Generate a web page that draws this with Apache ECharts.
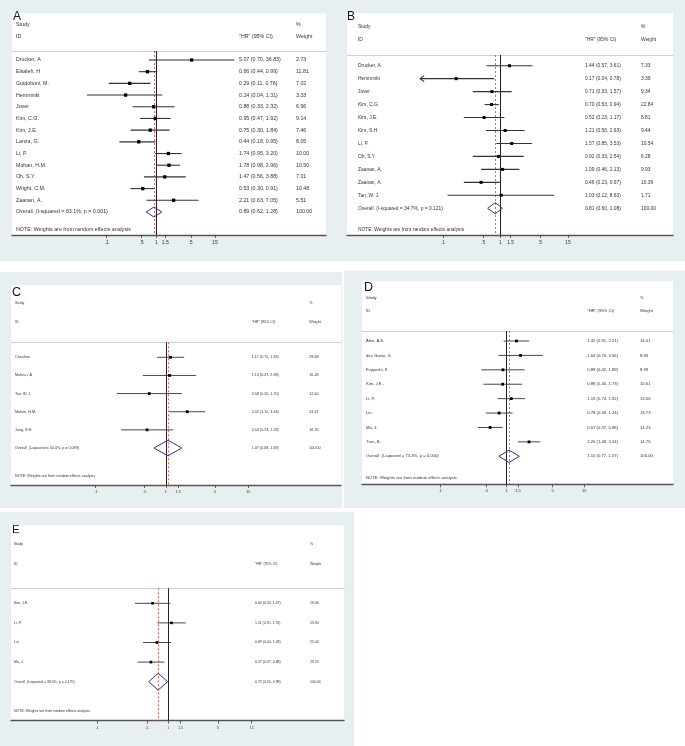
<!DOCTYPE html>
<html><head><meta charset="utf-8">
<script src="https://cdn.jsdelivr.net/npm/echarts@6/dist/echarts.min.js"></script>
<style>html,body{margin:0;padding:0;background:#fff}#c{width:685px;height:746px}</style>
</head><body><div id="c"></div><script>
// ---------------- data ----------------
const tickValues = [0.1, 0.5, 1, 1.5, 5, 15];
const tickLabels = ['.1', '.5', '1', '1.5', '5', '15'];

const studiesA = ['Drucker, A', 'Elsaleh, H', 'Guidoboni, M.', 'Hemminki', 'Jover', 'Kim, C.G.', 'Kim, J.E.', 'Lanza, G.', 'Li, P.', 'Mohan, H.M.', 'Oh, S.Y.', 'Wright, C.M.', 'Zaanan, A.'];
const hrA = [5.07, 0.66, 0.29, 0.24, 0.88, 0.95, 0.75, 0.44, 1.74, 1.78, 1.47, 0.53, 2.21];
const loA = [0.70, 0.44, 0.11, 0.04, 0.33, 0.47, 0.30, 0.18, 0.95, 0.98, 0.56, 0.30, 0.63];
const hiA = [36.83, 0.99, 0.76, 1.31, 2.32, 1.92, 1.84, 0.95, 3.20, 2.96, 3.88, 0.91, 7.05];
const weightA = [2.73, 11.81, 7.02, 3.33, 6.96, 9.14, 7.46, 8.05, 10.00, 10.50, 7.01, 10.48, 5.51];
const overallA = [0.89, 0.62, 1.28];
const overallLabelA = 'Overall  (I-squared = 63.1%, p = 0.001)';

const studiesB = ['Drucker, A', 'Hemminki', 'Jover', 'Kim, C.G.', 'Kim, J.E.', 'Kim, S.H.', 'Li, P.', 'Oh, S.Y.', 'Zaanan, A.', 'Zaanan, A.', 'Tan, W. J.'];
const hrB = [1.44, 0.17, 0.71, 0.70, 0.52, 1.21, 1.57, 0.92, 1.09, 0.46, 1.03];
const loB = [0.57, 0.04, 0.33, 0.53, 0.23, 0.56, 0.85, 0.33, 0.46, 0.23, 0.12];
const hiB = [3.61, 0.78, 1.57, 0.94, 1.17, 2.63, 3.53, 2.54, 2.13, 0.97, 8.63];
const weightB = [7.33, 3.39, 9.34, 22.84, 8.81, 9.44, 10.54, 6.28, 9.93, 10.39, 1.71];
const arrowLowB = [1];
const overallB = [0.81, 0.60, 1.08];
const overallLabelB = 'Overall  (I-squared = 34.7%, p = 0.121)';

const studiesC = ['Chouhan', 'Malesci, A', 'Tan, W. J.', 'Mohan, H.M.', 'Jung, S.H.'];
const hrC = [1.17, 1.13, 0.58, 2.02, 0.54];
const loC = [0.75, 0.47, 0.20, 1.12, 0.23];
const hiC = [1.83, 2.68, 1.70, 3.64, 1.28];
const weightC = [29.68, 16.48, 12.60, 24.47, 16.76];
const overallC = [1.07, 0.68, 1.69];
const overallLabelC = 'Overall  (I-squared = 50.4%, p = 0.089)';

const studiesD = ['Alex, A.K.', 'des Guetz, G', 'Fujiyoshi, K', 'Kim, J.E.,', 'Li, P.', 'Liu', 'Ma, J.', 'Tran, B.'];
const hrD = [1.42, 1.64, 0.89, 0.88, 1.19, 0.78, 0.57, 2.20];
const loD = [0.91, 0.76, 0.42, 0.45, 0.74, 0.49, 0.37, 1.49];
const hiD = [2.21, 3.56, 1.89, 1.73, 1.92, 1.24, 0.88, 3.24];
const weightD = [14.01, 8.83, 8.99, 10.01, 13.56, 13.73, 14.23, 14.75];
const overallD = [1.10, 0.77, 1.57];
const overallLabelD = 'Overall  (I-squared = 73.3%, p = 0.000)';

const studiesE = ['Kim, J.E.', 'Li, P.', 'Liu', 'Ma, J.'];
const hrE = [0.60, 1.11, 0.69, 0.57];
const loE = [0.34, 0.70, 0.44, 0.37];
const hiE = [1.07, 1.76, 1.09, 0.88];
const weightE = [19.46, 25.90, 25.40, 29.23];
const overallE = [0.72, 0.53, 0.98];
const overallLabelE = 'Overall  (I-squared = 38.0%, p = 0.175)';

const headerStudy = 'Study', headerID = 'ID', headerHR = '"HR" (95% CI)', headerPct = '%', headerWeight = 'Weight';
const noteText = 'NOTE: Weights are from random effects analysis';

// ---------------- layout ----------------
const FONT = '"Liberation Sans", Arial, sans-serif';
const TXT = '#333';
const panels = [
  {letter:'A', st:studiesA, hr:hrA, lo:loA, hi:hiA, w:weightA, ov:overallA, ovLabel:overallLabelA, arrows:[],
   box:[12,13,314,222], top:51, y0:60, dy:11.69, t01:106.7, t15:215, cols:[16,239,296], fs:5.3,
   let:[13,11,12], hStudy:25, hId:37, note:230, tfs:5.2, margin:5.5, mark:3.3, lw:1.1},
  {letter:'B', st:studiesB, hr:hrB, lo:loB, hi:hiB, w:weightB, ov:overallB, ovLabel:overallLabelB, arrows:arrowLowB,
   box:[347,13,326,222], top:55, y0:65.7, dy:12.96, t01:443, t15:568, cols:[358,585,641], fs:4.9,
   let:[347,11,12], hStudy:26.7, hId:40, note:230, tfs:4.9, margin:5.3, mark:3, lw:1.1},
  {letter:'C', st:studiesC, hr:hrC, lo:loC, hi:hiC, w:weightC, ov:overallC, ovLabel:overallLabelC, arrows:[],
   box:[11,285,330,200], top:342.3, y0:357.3, dy:18.14, t01:95.7, t15:248.3, cols:[15,251.7,309.3], fs:3.7,
   let:[12,286,12.5], hStudy:302.7, hId:322, note:475.7, tfs:3.8, margin:4.8, mark:2.8, lw:0.9},
  {letter:'D', st:studiesD, hr:hrD, lo:loD, hi:hiD, w:weightD, ov:overallD, ovLabel:overallLabelD, arrows:[],
   box:[362,281,311,203.3], top:331, y0:341, dy:14.41, t01:440, t15:584.3, cols:[366,587.3,640], fs:4.2,
   let:[364,281,12.5], hStudy:297.7, hId:310.7, note:477.7, tfs:4, margin:4.7, mark:2.8, lw:0.9},
  {letter:'E', st:studiesE, hr:hrE, lo:loE, hi:hiE, w:weightE, ov:overallE, ovLabel:overallLabelE, arrows:[],
   box:[11,525,333,195.7], top:588.3, y0:603.3, dy:19.6, t01:97.3, t15:251.7, cols:[14,255,310], fs:3.5,
   let:[12,524,11.5], hStudy:544.3, hId:564, note:711, tfs:3.6, margin:4.8, mark:2.6, lw:0.9}
];
const greyBoxes = [[0,0,685,261],[0,272,342,236],[344,271,341,237],[0,512,354,234]];
const BG = '#e8eff1';

const fmt = v => v.toFixed(2);
const ciText = (h,l,u) => fmt(h) + ' (' + fmt(l) + ', ' + fmt(u) + ')';

const grids = [], xAxes = [], yAxes = [], series = [], graphics = [];
greyBoxes.forEach(b => graphics.push({type:'rect', z:-10, shape:{x:b[0],y:b[1],width:b[2],height:b[3]}, style:{fill:BG}}));

panels.forEach((p, k) => {
  const L = p.box[0], R = p.box[0] + p.box[2], B = p.box[1] + p.box[3];
  graphics.push({type:'rect', z:-9, shape:{x:L,y:p.box[1],width:p.box[2],height:p.box[3]}, style:{fill:'#fff'}});
  const kx = (p.t15 - p.t01) / Math.log(150);
  const xmin = 0.1 * Math.exp(-(p.t01 - L) / kx);
  const xmax = 0.1 * Math.exp((R - p.t01) / kx);
  const ymin = -(p.y0 - p.top) / p.dy, ymax = (B - p.y0) / p.dy;
  grids.push({left:L, top:p.top, width:p.box[2], height:B - p.top, containLabel:false, outerBoundsMode:'none'});
  xAxes.push({type:'log', gridIndex:k, min:xmin, max:xmax, logBase:10, position:'bottom',
    axisLine:{show:true, onZero:false, lineStyle:{color:'#555', width:1.4}},
    axisTick:{show:true, customValues:tickValues, length:3, lineStyle:{color:'#444', width:0.8}},
    axisLabel:{show:true, customValues:tickValues, fontSize:p.tfs, color:TXT, fontFamily:FONT, margin:p.margin,
      formatter: v => { const i = tickValues.findIndex(t => Math.abs(t - v) < 1e-6 * t); return i >= 0 ? tickLabels[i] : ''; }},
    splitLine:{show:false}, minorTick:{show:false}, minorSplitLine:{show:false}});
  xAxes.push({type:'value', gridIndex:k, position:'top', min:0, max:1,
    axisLine:{show:true, onZero:false, lineStyle:{color:'#cfcfcf', width:1}}, axisTick:{show:false}, axisLabel:{show:false}, splitLine:{show:false}});
  yAxes.push({type:'value', gridIndex:k, inverse:true, min:ymin, max:ymax, show:false, splitLine:{show:false}, axisLine:{onZero:false}});

  const n = p.st.length;
  // reference lines
  series.push({type:'line', xAxisIndex:2*k, yAxisIndex:k, data:[], silent:true,
    markLine:{silent:true, symbol:['none','none'], label:{show:false}, z:3,
      data:[{xAxis:1, lineStyle:{color:'#222', type:'solid', width:1}},
            {xAxis:p.ov[0], lineStyle:{color:'#d9534f', type:[2,2], width:0.9}}]}});
  // confidence intervals + point estimates
  series.push({type:'custom', xAxisIndex:2*k, yAxisIndex:k, clip:false, z:4,
    data: p.hr.map((h, i) => [h, p.lo[i], p.hi[i], i, p.arrows.includes(i) ? 1 : 0]),
    renderItem: (params, api) => {
      const i = api.value(3);
      const a = api.coord([api.value(1), i]), b = api.coord([api.value(2), i]), c = api.coord([api.value(0), i]);
      const s = p.mark;
      const ch = [
        {type:'line', shape:{x1:a[0], y1:a[1], x2:b[0], y2:b[1]}, style:{stroke:'#333', lineWidth:p.lw}},
        {type:'rect', shape:{x:c[0]-s/2, y:c[1]-s/2, width:s, height:s}, style:{fill:'#000'}}
      ];
      if (api.value(4)) ch.push({type:'polyline', shape:{points:[[a[0]+4, a[1]-3], [a[0], a[1]], [a[0]+4, a[1]+3]]}, style:{stroke:'#333', fill:null, lineWidth:p.lw}});
      return {type:'group', children:ch};
    }});
  // overall diamond
  series.push({type:'custom', xAxisIndex:2*k, yAxisIndex:k, clip:false, z:5,
    data:[[p.ov[0], p.ov[1], p.ov[2], n]],
    renderItem: (params, api) => {
      const r = api.value(3), h = 0.43;
      const pts = [api.coord([api.value(1), r]), api.coord([api.value(0), r - h]), api.coord([api.value(2), r]), api.coord([api.value(0), r + h])];
      return {type:'polygon', shape:{points:pts}, style:{stroke:'#2e3192', fill:null, lineWidth:1}};
    }});
  // row texts
  const names = p.st.concat([p.ovLabel]);
  const cis = p.hr.map((h, i) => ciText(h, p.lo[i], p.hi[i])).concat([ciText(p.ov[0], p.ov[1], p.ov[2])]);
  const wts = p.w.map(fmt).concat(['100.00']);
  series.push({type:'custom', xAxisIndex:2*k, yAxisIndex:k, clip:false, z:6, silent:true,
    data: names.map((_, i) => [1, i]),
    renderItem: (params, api) => {
      const i = params.dataIndex;
      const y = api.coord([1, api.value(1)])[1];
      const st = t => ({text:t, fontSize:p.fs, fontFamily:FONT, fill:TXT, verticalAlign:'middle', align:'left'});
      return {type:'group', children:[
        {type:'text', x:p.cols[0], y:y, style:st(names[i])},
        {type:'text', x:p.cols[1], y:y, style:st(cis[i])},
        {type:'text', x:p.cols[2], y:y, style:st(wts[i])}
      ]};
    }});
  // headers, letter, note
  const ht = (t, x, y, fs) => ({type:'text', z:10, x:x, y:y, style:{text:t, fontSize:fs, fontFamily:FONT, fill:TXT, verticalAlign:'middle'}});
  graphics.push({type:'text', z:10, x:p.let[0], y:p.let[1], style:{text:p.letter, fontSize:p.let[2], fontFamily:FONT, fill:'#111', verticalAlign:'top', fontWeight:'normal'}});
  graphics.push(ht(headerStudy, p.cols[0], p.hStudy, p.fs));
  graphics.push(ht(headerID, p.cols[0], p.hId, p.fs));
  graphics.push(ht(headerHR, p.cols[1], p.hId, p.fs));
  graphics.push(ht(headerPct, p.cols[2], p.hStudy, p.fs));
  graphics.push(ht(headerWeight, p.cols[2], p.hId, p.fs));
  graphics.push(ht(noteText, p.cols[0], p.note, p.fs));
});

const chart = echarts.init(document.getElementById('c'), null, {renderer:'canvas'});
chart.setOption({animation:false, backgroundColor:'#fff', grid:grids, xAxis:xAxes, yAxis:yAxes, series:series, graphic:{elements:graphics}});
</script></body></html>
